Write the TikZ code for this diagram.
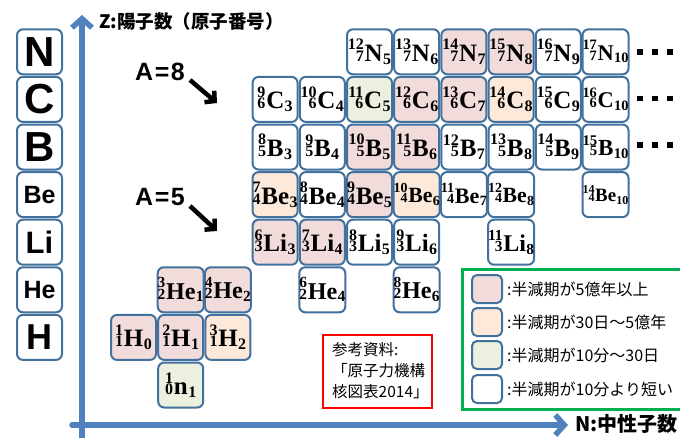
\documentclass[tikz,border=0pt]{standalone}
\usepackage{fontspec}
\usepackage{graphicx}
\usetikzlibrary{arrows.meta}
\newfontfamily\cjk{Noto Sans CJK JP}
\newfontfamily\arialf{Liberation Sans}
\newfontfamily\isof{Liberation Serif}
\definecolor{cellb}{HTML}{41719C}
\definecolor{pinkc}{HTML}{F2DCDB}
\definecolor{orangec}{HTML}{FDE9D9}
\definecolor{greenc}{HTML}{EBF1DE}
\definecolor{axisc}{HTML}{4F81BD}
\definecolor{legg}{HTML}{00B050}
\newsavebox\isob
\newsavebox\isoa
\newsavebox\isoc
\newlength\isow
\newcommand\scr{\isof\bfseries\fontsize{16}{16}\selectfont}
\newcommand\isotxt[4]{%
  \sbox\isoa{\scr #1}%
  \sbox\isoc{\scr #2}%
  \ifdim\wd\isoa>\wd\isoc \setlength\isow{\wd\isoa}\else\setlength\isow{\wd\isoc}\fi
  \rlap{\makebox[\isow][r]{\raisebox{11.5pt}{\usebox\isoa}}}%
  \makebox[\isow][r]{\usebox\isoc}%
  \kern0.8pt{\isof\bfseries\fontsize{25}{25}\selectfont #3}\kern0.4pt
  \raisebox{-3pt}{\scr #4}}
\newcommand\iso[4]{\sbox\isob{\isotxt{#1}{#2}{#3}{#4}}%
  \ifdim\wd\isob>46pt \resizebox{46pt}{!}{\usebox\isob}\else\usebox\isob\fi}
\newcommand\nuc[5]{%
  \node[#1] (#4#2) at ({133.5+47.2*#5},{385-47.6*#3}) {\iso{#2}{#3}{#4}{#5}};}
\tikzset{
  cell/.style={draw=cellb, line width=2pt, rounded corners=6pt, minimum width=45pt, minimum height=45pt, inner sep=0pt, fill=white},
  cw/.style={cell},
  cp/.style={cell, fill=pinkc},
  co/.style={cell, fill=orangec},
  cg/.style={cell, fill=greenc},
  elem/.style={cell, font=\arialf\bfseries},
  axis/.style={draw=axisc, line width=5.5pt, line cap=round, -{Straight Barb[length=9pt,width=20pt]}},
  blk/.style={draw=black, line width=4.5pt, -{Straight Barb[length=7pt,width=15pt]}},
  dotsq/.style={fill=black, minimum size=5.5pt, inner sep=0pt},
  swatch/.style={draw=cellb, line width=2pt, rounded corners=5pt, minimum width=30pt, minimum height=28pt, inner sep=0pt},
  legtxt/.style={anchor=west, inner sep=0pt, font=\cjk\fontsize{16}{16}\selectfont},
  alab/.style={inner sep=0pt, font=\arialf\bfseries\fontsize{25}{25}\selectfont}
}
\begin{document}
\begin{tikzpicture}[x=1pt,y=-1pt]
\useasboundingbox[fill=white] (0,0) rectangle (680,437);
% axes
\coordinate (yb) at (82,440);
\coordinate (yt) at (82,15);
\coordinate (xl) at (72,425);
\coordinate (xr) at (568,425);
\draw[axis] (yb) -- (yt);
\draw[axis] (xl) -- (xr);
\node[anchor=west, inner sep=0pt, font=\cjk\bfseries\fontsize{18.5}{18.5}\selectfont] (zlab) at (99,21) {Z:陽子数（原子番号）};
\node[anchor=west, inner sep=0pt, font=\cjk\bfseries\fontsize{20}{20}\selectfont] (nlab) at (575,424) {N:中性子数};
% element column
\node[elem, font=\arialf\bfseries\fontsize{42}{42}\selectfont] (eN) at (39.5,51.8) {N};
\node[elem, font=\arialf\bfseries\fontsize{42}{42}\selectfont] (eC) at (39.5,99.4) {C};
\node[elem, font=\arialf\bfseries\fontsize{42}{42}\selectfont] (eB) at (39.5,147) {B};
\node[elem, font=\arialf\bfseries\fontsize{25}{25}\selectfont] (eBe) at (39.5,194.6) {Be};
\node[elem, font=\arialf\bfseries\fontsize{31}{31}\selectfont] (eLi) at (39.5,242.2) {Li};
\node[elem, font=\arialf\bfseries\fontsize{25}{25}\selectfont] (eHe) at (39.5,289.8) {He};
\node[elem, font=\arialf\bfseries\fontsize{36}{36}\selectfont] (eH) at (39.5,337.4) {H};
% nuclides
\nuc{cw}{12}{7}{N}{5}\nuc{cw}{13}{7}{N}{6}\nuc{cp}{14}{7}{N}{7}\nuc{cp}{15}{7}{N}{8}\nuc{cw}{16}{7}{N}{9}\nuc{cw}{17}{7}{N}{10}
\nuc{cw}{9}{6}{C}{3}\nuc{cw}{10}{6}{C}{4}\nuc{cg}{11}{6}{C}{5}\nuc{cp}{12}{6}{C}{6}\nuc{cp}{13}{6}{C}{7}\nuc{co}{14}{6}{C}{8}\nuc{cw}{15}{6}{C}{9}\nuc{cw}{16}{6}{C}{10}
\nuc{cw}{8}{5}{B}{3}\nuc{cw}{9}{5}{B}{4}\nuc{cp}{10}{5}{B}{5}\nuc{cp}{11}{5}{B}{6}\nuc{cw}{12}{5}{B}{7}\nuc{cw}{13}{5}{B}{8}\nuc{cw}{14}{5}{B}{9}\nuc{cw}{15}{5}{B}{10}
\nuc{co}{7}{4}{Be}{3}\nuc{cw}{8}{4}{Be}{4}\nuc{cp}{9}{4}{Be}{5}\nuc{co}{10}{4}{Be}{6}\nuc{cw}{11}{4}{Be}{7}\nuc{cw}{12}{4}{Be}{8}\nuc{cw}{14}{4}{Be}{10}
\nuc{cp}{6}{3}{Li}{3}\nuc{cp}{7}{3}{Li}{4}\nuc{cw}{8}{3}{Li}{5}\nuc{cw}{9}{3}{Li}{6}\nuc{cw}{11}{3}{Li}{8}
\nuc{cp}{3}{2}{He}{1}\nuc{cp}{4}{2}{He}{2}\nuc{cw}{6}{2}{He}{4}\nuc{cw}{8}{2}{He}{6}
\nuc{cp}{1}{1}{H}{0}\nuc{cp}{2}{1}{H}{1}\nuc{co}{3}{1}{H}{2}
\nuc{cg}{1}{0}{n}{1}
% ellipses
\foreach \r/\yy in {n/52,c/98.5,b/145}{
  \node[dotsq] (\r d1) at (640,\yy) {};
  \node[dotsq] (\r d2) at (655,\yy) {};
  \node[dotsq] (\r d3) at (670,\yy) {};
}
% A labels
\node[alab] (a8) at (160,72) {A\kern1.5pt=\kern1.5pt8};
\node[alab] (a5) at (160,197) {A\kern1.5pt=\kern1.5pt5};
\coordinate (a8s) at (190,80);
\coordinate (a8e) at (217,103);
\coordinate (a5s) at (190,206);
\coordinate (a5e) at (217,231);
\draw[blk] (a8s) -- (a8e);
\draw[blk] (a5s) -- (a5e);
% reference box
\node[draw=red, line width=2pt, minimum width=109pt, minimum height=73pt, inner sep=0pt] (refbox) at (377.5,371.5) {};
\node[anchor=north west, inner sep=0pt, align=left, font=\cjk\fontsize{15.5}{21}\selectfont] (reftxt) at (332,342) {参考資料:\\「原子力機構\\核図表2014」};
% legend
\node[draw=legg, line width=2.5pt, minimum width=240pt, minimum height=140pt, inner sep=0pt, anchor=north west] (leg) at (461,268) {};
\node[swatch, fill=pinkc] (s1) at (487,289) {};
\node[swatch, fill=orangec] (s2) at (487,322) {};
\node[swatch, fill=greenc] (s3) at (487,355) {};
\node[swatch, fill=white] (s4) at (487,389) {};
\node[legtxt] (t1) at (507,289) {:半減期が5億年以上};
\node[legtxt] (t2) at (507,322) {:半減期が30日～5億年};
\node[legtxt] (t3) at (507,355) {:半減期が10分～30日};
\node[legtxt] (t4) at (507,389) {:半減期が10分より短い};
\end{tikzpicture}
\end{document}
